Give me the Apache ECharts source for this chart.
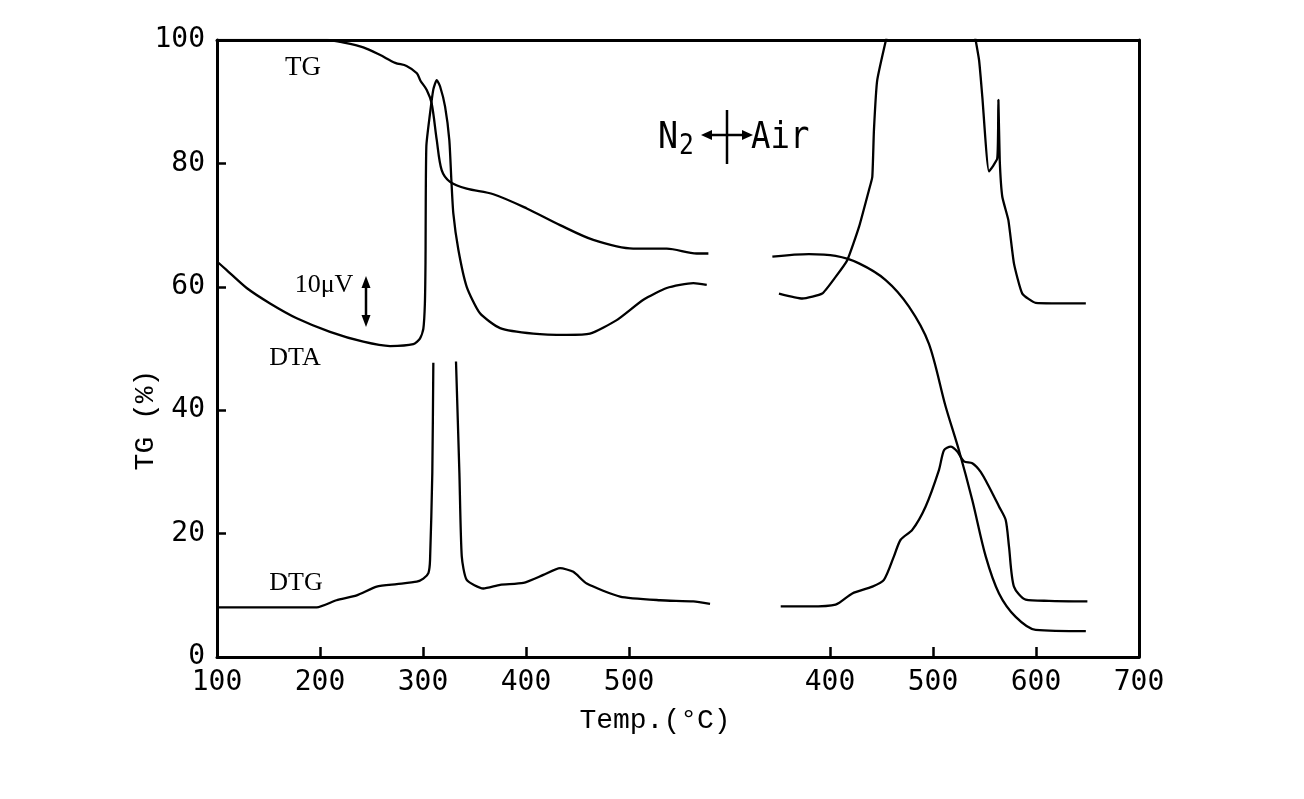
<!DOCTYPE html>
<html><head><meta charset="utf-8">
<script src="https://cdn.jsdelivr.net/npm/echarts@6/dist/echarts.min.js"></script>
<style>html,body{margin:0;padding:0;background:#fff}#c{width:1304px;height:799px}</style>
</head><body><div id="c"></div>
<script>
// ---- axis ranges and tick labels ----
const n2Range = [100, 605];
const airRange = [310, 700];
const n2TickLabels = [100, 200, 300, 400, 500];
const n2Ticks = [200, 300, 400, 500];
const airTickLabels = [400, 500, 600, 700];
const airTicks = [400, 500, 600];
const yTickLabels = [0, 20, 40, 60, 80, 100];
const yTicks = [20, 40, 60, 80];

// ---- N2 atmosphere: [temp °C, value on TG(%) scale] ----
const n2TG = [[100,100],[207,100],[222,99.6],[242,98.8],[258,97.6],[273,96.3],[284,95.8],[294,94.6],[297.5,93.4],[303.6,91.9],[308.4,89.7],[313.3,83.8],[318.1,78.9],[326.2,77],[342.4,75.9],[368.3,75],[400.7,72.7],[433,70],[465.3,67.6],[504,66.2],[536.6,66.2],[565.7,65.4],[577,65.4]];
const n2DTA = [[100,64.1],[109.4,62.7],[128.8,59.8],[151.5,57.3],[177.4,54.9],[209.7,52.7],[242,51.1],[268,50.4],[290.6,50.7],[297,51.6],[300.3,53.2],[301.8,57.3],[302.4,64],[303.2,82.7],[306.8,88.1],[310,92],[313.3,93.5],[316.5,92.5],[321.4,89.2],[325.5,83.8],[327.5,77.3],[329.4,71.9],[334.3,66],[342.4,60],[355.3,55.7],[374.8,53.3],[407,52.4],[439.5,52.2],[462,52.4],[488,54.6],[513.9,57.9],[536.6,59.8],[562.4,60.6],[575.4,60.3]];
const n2DTG = [[100,8.05],[196.8,8.05],[216,9.2],[235.6,10.0],[255,11.4],[274.5,11.8],[293.9,12.2],[300.3,12.7],[305.2,13.6],[306.8,15.7],[309,29.8],[310,47.7],[321,'-'],[332,47.9],[335.3,29.8],[337.6,16.3],[342.4,12.5],[358.5,11.1],[374.8,11.7],[397.4,12.0],[416.8,13.3],[433,14.4],[445.9,13.8],[458.9,11.9],[491.3,9.8],[530.1,9.2],[562.4,9.0],[578.6,8.6]];

// ---- Air atmosphere ----
const airTG = [[344.1,64.9],[379.6,65.3],[405.5,65.0],[428.2,63.8],[454.1,61.1],[476.7,56.8],[496,50.8],[512.3,40.6],[525.2,33.5],[538.2,25.4],[551.2,16.3],[564.1,10.3],[580.3,6.5],[599.7,4.4],[648.4,4.2]];
const airDTA = [[350.5,58.9],[373.2,58.1],[392.5,58.9],[405.5,61.6],[416.8,64.3],[428.2,69.7],[437.9,75.7],[441.1,77.8],[442.7,85.4],[445.9,93.5],[460,104],[500,'-'],[537,104],[544.7,96.8],[547.9,90.8],[554.4,78.7],[562.4,80.8],[563.5,90.3],[564.8,80.6],[567.3,74.6],[573.2,70.8],[578.6,63.8],[586.7,58.9],[599.7,57.4],[648.4,57.3]];
const airDTG = [[352.2,8.2],[379.6,8.2],[405.5,8.5],[421.7,10.3],[441.1,11.4],[452.4,12.5],[462.1,16.3],[468.6,19.0],[479.9,20.6],[492.9,24.4],[505.8,30.3],[510.7,33.5],[517.2,34.1],[523.6,33.3],[530.1,31.7],[538.2,31.4],[546.3,30.0],[554.4,27.6],[564.1,24.4],[570.6,22.2],[573.8,17.9],[578.6,11.4],[590,9.3],[612.6,9.1],[649.9,9.0]];

// ---- layout ----
const plotLeft = 217, plotRight = 1139, plotTop = 40, plotBottom = 657;
const span = (n2Range[1]-n2Range[0]) + (airRange[1]-airRange[0]);
const pxPerUnit = (plotRight - plotLeft) / span;
const w1 = (n2Range[1]-n2Range[0]) * pxPerUnit;
const w2 = (airRange[1]-airRange[0]) * pxPerUnit;

const frame = {lineStyle:{color:'#000', width:3}};
const tickFont = {fontFamily:'DejaVu Sans Mono', fontSize:28, color:'#000'};

function lineSeries(data, xi, yi, sm){
  return {type:'line', data, xAxisIndex:xi, yAxisIndex:yi, showSymbol:false, symbol:'none',
    lineStyle:{color:'#000', width:2.3}, smooth:sm, connectNulls:false, clip:true, animation:false};
}

const symFont = '38px "DejaVu Sans Mono"';
const chart = echarts.init(document.getElementById('c'), null, {renderer:'canvas'});
chart.setOption({
  backgroundColor:'#fff',
  animation:false,
  grid:[
    {left:plotLeft, top:plotTop, width:w1, height:plotBottom-plotTop},
    {left:plotLeft+w1, top:plotTop, width:w2, height:plotBottom-plotTop}
  ],
  xAxis:[
    {gridIndex:0, type:'value', position:'bottom', min:n2Range[0], max:n2Range[1],
     axisLine:frame, splitLine:{show:false},
     axisTick:{show:true, inside:true, length:10, lineStyle:{color:'#000', width:2.5}, customValues:n2Ticks},
     axisLabel:Object.assign({margin:12, customValues:n2TickLabels}, tickFont)},
    {gridIndex:0, type:'value', position:'top', min:n2Range[0], max:n2Range[1],
     axisLine:frame, splitLine:{show:false}, axisTick:{show:false}, axisLabel:{show:false}},
    {gridIndex:1, type:'value', position:'bottom', min:airRange[0], max:airRange[1],
     axisLine:frame, splitLine:{show:false},
     axisTick:{show:true, inside:true, length:10, lineStyle:{color:'#000', width:2.5}, customValues:airTicks},
     axisLabel:Object.assign({margin:12, customValues:airTickLabels}, tickFont)},
    {gridIndex:1, type:'value', position:'top', min:airRange[0], max:airRange[1],
     axisLine:frame, splitLine:{show:false}, axisTick:{show:false}, axisLabel:{show:false}}
  ],
  yAxis:[
    {gridIndex:0, type:'value', position:'left', min:0, max:100,
     axisLine:Object.assign({show:true}, frame), splitLine:{show:false},
     axisTick:{show:true, inside:true, length:9, lineStyle:{color:'#000', width:2.5}, customValues:yTicks},
     axisLabel:Object.assign({margin:12, customValues:yTickLabels}, tickFont)},
    {gridIndex:1, type:'value', position:'right', min:0, max:100,
     axisLine:Object.assign({show:true}, frame), splitLine:{show:false},
     axisTick:{show:false}, axisLabel:{show:false}}
  ],
  series:[
    lineSeries(n2TG,0,0,0.3), lineSeries(n2DTA,0,0,0.2), lineSeries(n2DTG,0,0,0.2),
    lineSeries(airTG,2,1,0.3), lineSeries(airDTA,2,1,0.15), lineSeries(airDTG,2,1,0.25)
  ],
  graphic:[
    {type:'text', x:146, y:420, rotation:Math.PI/2, style:{text:'TG (%)', font:'28px "Liberation Mono"', fill:'#000', align:'center', verticalAlign:'middle'}},
    {type:'text', x:655, y:721, style:{text:'Temp.(°C)', font:'28px "Liberation Mono"', fill:'#000', align:'center', verticalAlign:'middle'}},
    {type:'text', x:303, y:68, style:{text:'TG', font:'27px "Liberation Serif"', fill:'#000', align:'center', verticalAlign:'middle'}},
    {type:'text', x:295, y:358, style:{text:'DTA', font:'26px "Liberation Serif"', fill:'#000', align:'center', verticalAlign:'middle'}},
    {type:'text', x:296, y:583, style:{text:'DTG', font:'26px "Liberation Serif"', fill:'#000', align:'center', verticalAlign:'middle'}},
    {type:'text', x:324, y:285, style:{text:'10μV', font:'26px "Liberation Serif"', fill:'#000', align:'center', verticalAlign:'middle'}},
    {type:'line', shape:{x1:366, y1:284, x2:366, y2:320}, style:{stroke:'#000', lineWidth:2.5}},
    {type:'polygon', shape:{points:[[366,276],[361.5,288],[370.5,288]]}, style:{fill:'#000'}},
    {type:'polygon', shape:{points:[[366,327],[361.5,315],[370.5,315]]}, style:{fill:'#000'}},
    {type:'text', x:658, y:138, scaleX:0.88, style:{text:'N', font:symFont, fill:'#000', align:'left', verticalAlign:'middle'}},
    {type:'text', x:679, y:146, scaleX:0.85, style:{text:'2', font:'29px "DejaVu Sans Mono"', fill:'#000', align:'left', verticalAlign:'middle'}},
    {type:'text', x:751, y:138, scaleX:0.85, style:{text:'Air', font:symFont, fill:'#000', align:'left', verticalAlign:'middle'}},
    {type:'line', shape:{x1:708, y1:135, x2:746, y2:135}, style:{stroke:'#000', lineWidth:2.5}},
    {type:'polygon', shape:{points:[[701,135],[712,130],[712,140]]}, style:{fill:'#000'}},
    {type:'polygon', shape:{points:[[753,135],[742,130],[742,140]]}, style:{fill:'#000'}},
    {type:'line', shape:{x1:727, y1:110, x2:727, y2:164}, style:{stroke:'#000', lineWidth:2.5}}
  ]
});
</script>
</body></html>
